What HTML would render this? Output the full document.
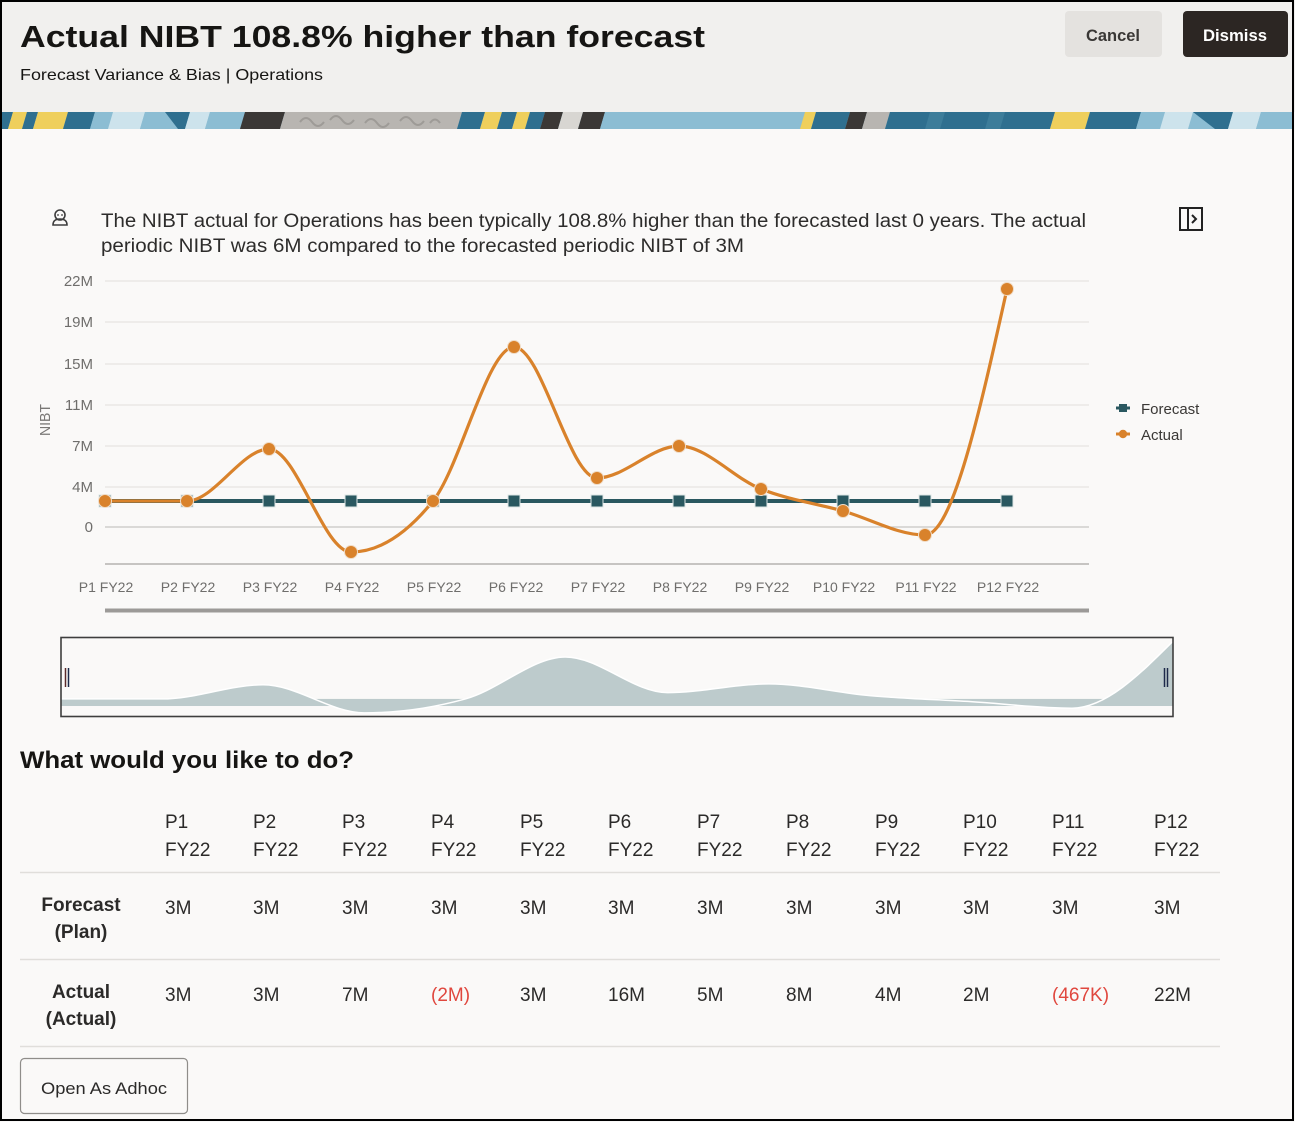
<!DOCTYPE html>
<html>
<head>
<meta charset="utf-8">
<style>
  html,body{margin:0;padding:0;background:#faf9f8;}
  svg{display:block;}
  text{font-family:"Liberation Sans", Arial, sans-serif;}
</style>
</head>
<body>
<svg width="1295" height="1122" viewBox="0 0 1295 1122" xmlns="http://www.w3.org/2000/svg">
  <defs>
    <clipPath id="bannerClip"><rect x="2" y="112" width="1291" height="17"/></clipPath>
    <clipPath id="ovClip"><rect x="61" y="637" width="1112" height="80"/></clipPath>
  </defs>

  <!-- page background -->
  <rect x="0" y="0" width="1295" height="1122" fill="#faf9f8"/>
  <!-- header -->
  <rect x="0" y="0" width="1295" height="112" fill="#f1f0ee"/>

  <!-- banner -->
  <g clip-path="url(#bannerClip)">
    <rect x="0" y="112" width="1295" height="17" fill="#8cbdd3"/>
    <polygon points="-10,112 13,112 8,129 -15,129" fill="#2f6f8f"/>
    <polygon points="13,112 27,112 22,129 8,129" fill="#efcf5c"/>
    <polygon points="27,112 38,112 33,129 22,129" fill="#2f6f8f"/>
    <polygon points="38,112 68,112 63,129 33,129" fill="#efcf5c"/>
    <polygon points="68,112 95,112 90,129 63,129" fill="#2f6f8f"/>
    <polygon points="95,112 113,112 108,129 90,129" fill="#8cbdd3"/>
    <polygon points="113,112 145,112 140,129 108,129" fill="#cde3ec"/>
    <polygon points="145,112 170,112 165,129 140,129" fill="#8cbdd3"/>
    <polygon points="165,112 190,112 185,129 178,129" fill="#2f6f8f"/>
    <polygon points="190,112 210,112 205,129 185,129" fill="#cde3ec"/>
    <polygon points="210,112 245,112 240,129 205,129" fill="#8cbdd3"/>
    <polygon points="245,112 285,112 280,129 240,129" fill="#3b3836"/>
    <polygon points="285,112 462,112 457,129 280,129" fill="#b8b5b1"/>
    <path d="M300,122 q6,-8 12,0 t12,0 M330,120 q6,-8 12,0 t12,0 M365,123 q6,-8 12,0 t12,0 M400,121 q6,-8 12,0 t12,0 M430,123 q5,-7 10,0" stroke="#9e9b97" stroke-width="2" fill="none"/>
    <polygon points="462,112 485,112 480,129 457,129" fill="#2f6f8f"/>
    <polygon points="485,112 502,112 497,129 480,129" fill="#efcf5c"/>
    <polygon points="502,112 517,112 512,129 497,129" fill="#2f6f8f"/>
    <polygon points="517,112 530,112 525,129 512,129" fill="#efcf5c"/>
    <polygon points="530,112 545,112 540,129 525,129" fill="#2f6f8f"/>
    <polygon points="545,112 563,112 558,129 540,129" fill="#3b3836"/>
    <polygon points="563,112 583,112 578,129 558,129" fill="#d8d6d2"/>
    <polygon points="583,112 605,112 600,129 578,129" fill="#3b3836"/>
    <polygon points="605,112 805,112 800,129 600,129" fill="#8cbdd3"/>
    <polygon points="805,112 816,112 811,129 800,129" fill="#efcf5c"/>
    <polygon points="816,112 850,112 845,129 811,129" fill="#2f6f8f"/>
    <polygon points="850,112 867,112 862,129 845,129" fill="#3b3836"/>
    <polygon points="867,112 890,112 885,129 862,129" fill="#b8b5b1"/>
    <polygon points="890,112 1055,112 1050,129 885,129" fill="#2f6f8f"/>
    <polygon points="930,112 945,112 940,129 925,129" fill="#3d7d9a"/>
    <polygon points="990,112 1005,112 1000,129 985,129" fill="#3d7d9a"/>
    <polygon points="1055,112 1090,112 1085,129 1050,129" fill="#efcf5c"/>
    <polygon points="1090,112 1141,112 1136,129 1085,129" fill="#2f6f8f"/>
    <polygon points="1141,112 1165,112 1160,129 1136,129" fill="#8cbdd3"/>
    <polygon points="1165,112 1193,112 1188,129 1160,129" fill="#cde3ec"/>
    <polygon points="1193,112 1233,112 1228,129 1215,129" fill="#2f6f8f"/>
    <polygon points="1233,112 1261,112 1256,129 1228,129" fill="#cde3ec"/>
    <polygon points="1261,112 1300,112 1300,129 1256,129" fill="#8cbdd3"/>
  </g>

  <!-- header text -->
  <text x="20" y="47" font-size="31" font-weight="bold" fill="#161513" textLength="685" lengthAdjust="spacingAndGlyphs">Actual NIBT 108.8% higher than forecast</text>
  <text x="20" y="80" font-size="16" fill="#161513" textLength="303" lengthAdjust="spacingAndGlyphs">Forecast Variance &amp; Bias | Operations</text>

  <!-- buttons -->
  <rect x="1065" y="11" width="97" height="46" rx="4" fill="#e4e2df"/>
  <text x="1113" y="41" font-size="17" font-weight="bold" fill="#3a3836" text-anchor="middle" textLength="54" lengthAdjust="spacingAndGlyphs">Cancel</text>
  <rect x="1183" y="11" width="105" height="46" rx="4" fill="#2c2623"/>
  <text x="1235" y="41" font-size="17" font-weight="bold" fill="#ffffff" text-anchor="middle" textLength="64" lengthAdjust="spacingAndGlyphs">Dismiss</text>

  <!-- person icon -->
  <g stroke="#3d3d3d" stroke-width="1.6" fill="none">
    <circle cx="60" cy="215" r="5"/>
    <path d="M53,225 Q53,219 60,219 Q67,219 67,225 Z"/>
  </g>
  <circle cx="58" cy="215" r="0.9" fill="#3d3d3d"/>
  <circle cx="62" cy="215" r="0.9" fill="#3d3d3d"/>

  <!-- description -->
  <text x="101" y="227" font-size="19" fill="#2d2c2b" textLength="985" lengthAdjust="spacingAndGlyphs">The NIBT actual for Operations has been typically 108.8% higher than the forecasted last 0 years. The actual</text>
  <text x="101" y="252" font-size="19" fill="#2d2c2b" textLength="643" lengthAdjust="spacingAndGlyphs">periodic NIBT was 6M compared to the forecasted periodic NIBT of 3M</text>

  <!-- panel icon -->
  <rect x="1180" y="208" width="22" height="22" fill="none" stroke="#222" stroke-width="2"/>
  <line x1="1188" y1="208" x2="1188" y2="230" stroke="#222" stroke-width="2"/>
  <polyline points="1192,215 1196,219 1192,223" fill="none" stroke="#222" stroke-width="2"/>

  <!-- gridlines -->
  <g stroke="#e6e4e1" stroke-width="1.3">
    <line x1="105" y1="281" x2="1089" y2="281"/>
    <line x1="105" y1="322" x2="1089" y2="322"/>
    <line x1="105" y1="364" x2="1089" y2="364"/>
    <line x1="105" y1="405" x2="1089" y2="405"/>
    <line x1="105" y1="446" x2="1089" y2="446"/>
    <line x1="105" y1="487" x2="1089" y2="487"/>
  </g>
  <line x1="105" y1="527" x2="1089" y2="527" stroke="#c8c6c3" stroke-width="1.3"/>
  <line x1="105" y1="564" x2="1089" y2="564" stroke="#b5b3b0" stroke-width="1.5"/>
  <line x1="105" y1="610.5" x2="1089" y2="610.5" stroke="#9c9a98" stroke-width="4"/>

  <!-- y tick labels -->
  <g font-size="15" fill="#6f6e6c" text-anchor="end">
    <text x="93" y="286">22M</text>
    <text x="93" y="327">19M</text>
    <text x="93" y="369">15M</text>
    <text x="93" y="410">11M</text>
    <text x="93" y="451">7M</text>
    <text x="93" y="492">4M</text>
    <text x="93" y="532">0</text>
  </g>
  <text transform="translate(50,420) rotate(-90)" font-size="15" fill="#7a7876" text-anchor="middle" textLength="32" lengthAdjust="spacingAndGlyphs">NIBT</text>

  <!-- x labels -->
  <g font-size="14" fill="#6f6e6c" text-anchor="middle">
    <text x="106" y="592">P1 FY22</text>
    <text x="188" y="592">P2 FY22</text>
    <text x="270" y="592">P3 FY22</text>
    <text x="352" y="592">P4 FY22</text>
    <text x="434" y="592">P5 FY22</text>
    <text x="516" y="592">P6 FY22</text>
    <text x="598" y="592">P7 FY22</text>
    <text x="680" y="592">P8 FY22</text>
    <text x="762" y="592">P9 FY22</text>
    <text x="844" y="592">P10 FY22</text>
    <text x="926" y="592">P11 FY22</text>
    <text x="1008" y="592">P12 FY22</text>
  </g>

  <!-- forecast series -->
  <line x1="105" y1="501" x2="1007" y2="501" stroke="#2a5860" stroke-width="4"/>
  <g fill="#2a5860" stroke="#dfe6e6" stroke-width="1">
    <rect x="99" y="495" width="12" height="12"/>
    <rect x="181" y="495" width="12" height="12"/>
    <rect x="263" y="495" width="12" height="12"/>
    <rect x="345" y="495" width="12" height="12"/>
    <rect x="427" y="495" width="12" height="12"/>
    <rect x="508" y="495" width="12" height="12"/>
    <rect x="591" y="495" width="12" height="12"/>
    <rect x="673" y="495" width="12" height="12"/>
    <rect x="755" y="495" width="12" height="12"/>
    <rect x="837" y="495" width="12" height="12"/>
    <rect x="919" y="495" width="12" height="12"/>
    <rect x="1001" y="495" width="12" height="12"/>
  </g>

  <!-- actual series -->
  <path d="M105,501 C132.3,501 159.7,501 187,501 C214.3,501 241.7,449 269,449 C296.3,449 323.7,552 351,552 C378.3,552 405.7,535 433,501 C460.3,467 487.7,347 514,347 C541.7,347 569.3,478 597,478 C624.3,478 651.7,446 679,446 C706.3,446 733.7,478.2 761,489 C788.3,499.8 815.7,503.3 843,511 C870.3,518.7 897.7,535 925,535 C952.3,535 979.7,412 1007,289" fill="none" stroke="#d9822b" stroke-width="3.2"/>
  <g fill="#d9822b" stroke="#f0dcc6" stroke-width="1">
    <circle cx="105" cy="501" r="6.5"/>
    <circle cx="187" cy="501" r="6.5"/>
    <circle cx="269" cy="449" r="6.5"/>
    <circle cx="351" cy="552" r="6.5"/>
    <circle cx="433" cy="501" r="6.5"/>
    <circle cx="514" cy="347" r="6.5"/>
    <circle cx="597" cy="478" r="6.5"/>
    <circle cx="679" cy="446" r="6.5"/>
    <circle cx="761" cy="489" r="6.5"/>
    <circle cx="843" cy="511" r="6.5"/>
    <circle cx="925" cy="535" r="6.5"/>
    <circle cx="1007" cy="289" r="6.5"/>
  </g>

  <!-- legend -->
  <line x1="1116" y1="408" x2="1130" y2="408" stroke="#2a5860" stroke-width="3"/>
  <rect x="1119" y="404" width="8" height="8" fill="#2a5860"/>
  <text x="1141" y="414" font-size="15" fill="#3a3836">Forecast</text>
  <line x1="1116" y1="434" x2="1130" y2="434" stroke="#d9822b" stroke-width="3"/>
  <circle cx="1123" cy="434" r="4.2" fill="#d9822b"/>
  <text x="1141" y="440" font-size="15" fill="#3a3836">Actual</text>

  <!-- overview -->
  <g clip-path="url(#ovClip)">
    <g transform="matrix(1.2329 0 0 0.2725 -68.45 562.4)">
      <rect x="105" y="501" width="902" height="26" fill="#bdcbcc"/>
      <path d="M105,501 C132.3,501 159.7,501 187,501 C214.3,501 241.7,449 269,449 C296.3,449 323.7,552 351,552 C378.3,552 405.7,535 433,501 C460.3,467 487.7,347 514,347 C541.7,347 569.3,478 597,478 C624.3,478 651.7,446 679,446 C706.3,446 733.7,478.2 761,489 C788.3,499.8 815.7,503.3 843,511 C870.3,518.7 897.7,535 925,535 C952.3,535 979.7,412 1007,289 L1007,527 L105,527 Z" fill="#bdcbcc"/>
      <path d="M105,501 C132.3,501 159.7,501 187,501 C214.3,501 241.7,449 269,449 C296.3,449 323.7,552 351,552 C378.3,552 405.7,535 433,501 C460.3,467 487.7,347 514,347 C541.7,347 569.3,478 597,478 C624.3,478 651.7,446 679,446 C706.3,446 733.7,478.2 761,489 C788.3,499.8 815.7,503.3 843,511 C870.3,518.7 897.7,535 925,535 C952.3,535 979.7,412 1007,289" fill="none" stroke="#ffffff" stroke-width="1.5" vector-effect="non-scaling-stroke"/>
    </g>
  </g>
  <rect x="61" y="637.5" width="1112" height="79" fill="none" stroke="#3e3e3e" stroke-width="1.6"/>
  <line x1="65.5" y1="668" x2="65.5" y2="687" stroke="#5a2a2a" stroke-width="1.5"/>
  <line x1="68.5" y1="668" x2="68.5" y2="687" stroke="#1e2a4a" stroke-width="1.5"/>
  <line x1="1164.5" y1="668" x2="1164.5" y2="687" stroke="#1e2a4a" stroke-width="1.5"/>
  <line x1="1167.5" y1="668" x2="1167.5" y2="687" stroke="#1e2a4a" stroke-width="1.5"/>

  <!-- heading -->
  <text x="20" y="768" font-size="24" font-weight="bold" fill="#161513" textLength="334" lengthAdjust="spacingAndGlyphs">What would you like to do?</text>

  <!-- table header -->
  <g font-size="19" fill="#2b2a29">
    <text x="165" y="828">P1</text><text x="165" y="856">FY22</text>
    <text x="253" y="828">P2</text><text x="253" y="856">FY22</text>
    <text x="342" y="828">P3</text><text x="342" y="856">FY22</text>
    <text x="431" y="828">P4</text><text x="431" y="856">FY22</text>
    <text x="520" y="828">P5</text><text x="520" y="856">FY22</text>
    <text x="608" y="828">P6</text><text x="608" y="856">FY22</text>
    <text x="697" y="828">P7</text><text x="697" y="856">FY22</text>
    <text x="786" y="828">P8</text><text x="786" y="856">FY22</text>
    <text x="875" y="828">P9</text><text x="875" y="856">FY22</text>
    <text x="963" y="828">P10</text><text x="963" y="856">FY22</text>
    <text x="1052" y="828">P11</text><text x="1052" y="856">FY22</text>
    <text x="1154" y="828">P12</text><text x="1154" y="856">FY22</text>
  </g>
  <g stroke="#e0dedb" stroke-width="1.6">
    <line x1="20" y1="872.5" x2="1220" y2="872.5"/>
    <line x1="20" y1="959.5" x2="1220" y2="959.5"/>
    <line x1="20" y1="1046.5" x2="1220" y2="1046.5"/>
  </g>

  <!-- row labels -->
  <g font-size="19" font-weight="bold" fill="#2b2a29" text-anchor="middle">
    <text x="81" y="911">Forecast</text>
    <text x="81" y="938">(Plan)</text>
    <text x="81" y="998">Actual</text>
    <text x="81" y="1025">(Actual)</text>
  </g>

  <!-- forecast values -->
  <g font-size="19" fill="#2b2a29">
    <text x="165" y="914">3M</text>
    <text x="253" y="914">3M</text>
    <text x="342" y="914">3M</text>
    <text x="431" y="914">3M</text>
    <text x="520" y="914">3M</text>
    <text x="608" y="914">3M</text>
    <text x="697" y="914">3M</text>
    <text x="786" y="914">3M</text>
    <text x="875" y="914">3M</text>
    <text x="963" y="914">3M</text>
    <text x="1052" y="914">3M</text>
    <text x="1154" y="914">3M</text>
  </g>
  <!-- actual values -->
  <g font-size="19" fill="#2b2a29">
    <text x="165" y="1001">3M</text>
    <text x="253" y="1001">3M</text>
    <text x="342" y="1001">7M</text>
    <text x="431" y="1001" fill="#e0473e">(2M)</text>
    <text x="520" y="1001">3M</text>
    <text x="608" y="1001">16M</text>
    <text x="697" y="1001">5M</text>
    <text x="786" y="1001">8M</text>
    <text x="875" y="1001">4M</text>
    <text x="963" y="1001">2M</text>
    <text x="1052" y="1001" fill="#e0473e">(467K)</text>
    <text x="1154" y="1001">22M</text>
  </g>

  <!-- Open As Adhoc button -->
  <rect x="20.5" y="1058.5" width="167" height="55" rx="4" fill="#faf9f8" stroke="#8f8d8a" stroke-width="1.2"/>
  <text x="104" y="1094" font-size="17" fill="#2b2a29" text-anchor="middle" textLength="126" lengthAdjust="spacingAndGlyphs">Open As Adhoc</text>

  <!-- outer border -->
  <rect x="1" y="1" width="1292" height="1119" fill="none" stroke="#000" stroke-width="2"/>
</svg>
</body>
</html>
